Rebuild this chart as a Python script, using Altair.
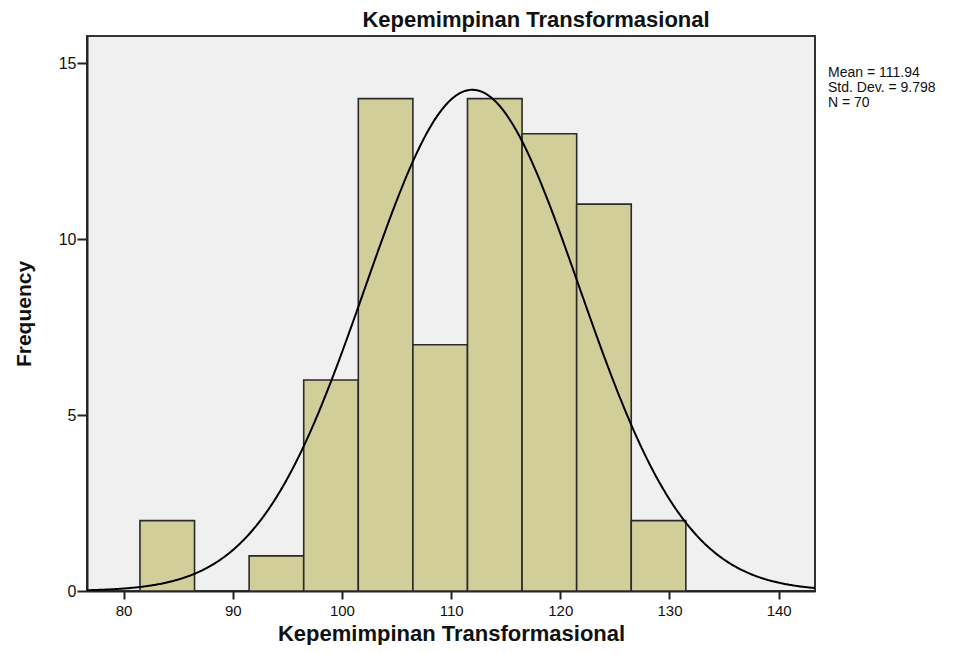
import altair as alt
import pandas as pd

bin_start = [81.5, 86.5, 91.5, 96.5, 101.5, 106.5, 111.5, 116.5, 121.5, 126.5]
bin_end = [86.5, 91.5, 96.5, 101.5, 106.5, 111.5, 116.5, 121.5, 126.5, 131.5]
counts = [2, 0, 1, 6, 14, 7, 14, 13, 11, 2]

mean_val = 111.94
sd_val = 9.798
n_val = 70
bin_width = 5
stats_lines = ["Mean = 111.94", "Std. Dev. = 9.798", "N = 70"]

x_ticks = [80, 90, 100, 110, 120, 130, 140]
y_ticks = [0, 5, 10, 15]
x_dom = [76.65, 143.33]
y_dom = [0, 15.78]

FONT = "Liberation Sans"
W, H = 728, 555

hist = pd.DataFrame({"start": bin_start, "end": bin_end, "count": counts})

xscale = alt.Scale(domain=x_dom, nice=False, zero=False)
yscale = alt.Scale(domain=y_dom, nice=False)

xaxis = alt.Axis(values=x_ticks, title="Kepemimpinan Transformasional", grid=False,
                 tickSize=8, tickWidth=2, tickColor="#222", domainColor="#222", domainWidth=2,
                 labelFont=FONT, labelFontSize=15, labelColor="#111", labelPadding=4,
                 titleFont=FONT, titleFontSize=22, titleFontWeight="bold", titleColor="#111",
                 titlePadding=5)
yaxis = alt.Axis(values=y_ticks, title="Frequency", grid=False,
                 tickSize=10, tickWidth=2, tickColor="#222", domainColor="#222", domainWidth=2,
                 labelFont=FONT, labelFontSize=16, labelColor="#111", labelPadding=1,
                 titleFont=FONT, titleFontSize=21, titleFontWeight="bold",
                 titleColor="#111", titlePadding=24)

bars = alt.Chart(hist).transform_filter("datum.count > 0").mark_rect(
    fill="#d2ce9a", stroke="#2a2a2a", strokeWidth=1.6
).encode(
    x=alt.X("start:Q", scale=xscale, axis=xaxis),
    x2="end:Q",
    y=alt.Y("count:Q", scale=yscale, axis=yaxis),
    y2=alt.datum(0),
)

curve = alt.Chart(alt.sequence(x_dom[0], x_dom[1] + 0.1, 0.1, as_="x")).transform_calculate(
    y=f"{n_val}*{bin_width}/({sd_val}*sqrt(2*PI))*exp(-0.5*pow((datum.x-{mean_val})/{sd_val},2))"
).mark_line(color="#000", strokeWidth=2, clip=True).encode(
    x=alt.X("x:Q", scale=xscale),
    y=alt.Y("y:Q", scale=yscale),
)

stats_df = pd.DataFrame({"t": stats_lines, "i": [0, 1, 2]})
stats = alt.Chart(stats_df).mark_text(
    align="left", baseline="alphabetic", font=FONT, fontSize=14, color="#111"
).transform_calculate(
    py="41 + datum.i * 15"
).encode(
    x=alt.value(741),
    y=alt.Y("py:Q", scale=None),
    text="t:N",
)

chart = alt.layer(bars, curve, stats).properties(
    width=W, height=H,
    title=alt.Title("Kepemimpinan Transformasional", font=FONT, fontSize=22,
                    fontWeight="bold", color="#111", anchor="middle", dx=85, offset=4),
    autosize=alt.AutoSizeParams(type="none"),
    padding={"left": 79, "top": 28, "right": 150, "bottom": 54},
).configure(
    background="white"
).configure_view(
    fill="#f0f0f0", stroke="#333", strokeWidth=2
)

chart.save("out.html", embed_options={"renderer": "svg", "actions": False})
